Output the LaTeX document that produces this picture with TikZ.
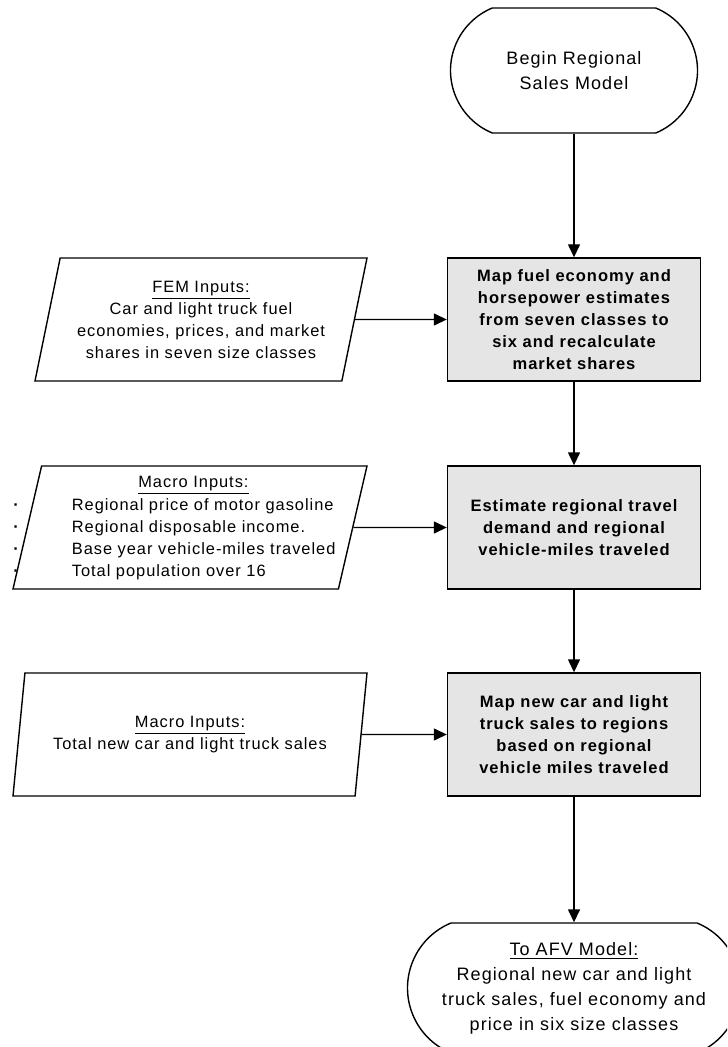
\documentclass[tikz,border=0pt]{standalone}
\usepackage{fontspec}
\setmainfont{Liberation Sans}[LetterSpace=6]
\usetikzlibrary{shapes.geometric,shapes.misc,arrows.meta}

\begin{document}
\begin{tikzpicture}[x=0.5pt,y=-0.5pt,
terminal/.style={draw,line width=0.7pt,rounded rectangle,rounded rectangle arc length=135,inner sep=0pt,align=center,font=\fontsize{9}{12.5}\selectfont},
process/.style={draw,line width=0.7pt,fill=black!10,minimum width=126.5pt,minimum height=61.5pt,inner sep=0pt,align=center,font=\fontsize{8.25}{11}\selectfont\bfseries},
inputbox/.style={draw,line width=0.7pt,trapezium,trapezium left angle=72,trapezium right angle=108,trapezium stretches body,minimum height=61.5pt,inner sep=0pt,align=center,font=\fontsize{8.2}{11}\selectfont},
flow/.style={line width=0.7pt,-{Triangle[length=6.5pt,width=6pt]}}]
\clip (0,0) rectangle (727,1047);
% main column
\node[terminal,minimum width=123.5pt,minimum height=62.5pt] (begin) at (574,70.5) {Begin Regional\\Sales Model};
\node[process] (mapfuel) at (574,319.5) {Map fuel economy and\\horsepower estimates\\from seven classes to\\six and recalculate\\market shares};
\node[process] (travel) at (574,527.5) {Estimate regional travel\\demand and regional\\vehicle-miles traveled};
\node[process] (mapsales) at (574,734.5) {Map new car and light\\truck sales to regions\\based on regional\\vehicle miles traveled};
\node[terminal,minimum width=166.5pt,minimum height=65pt] (afv) at (574,988) {\underline{To AFV Model:}\\Regional new car and light\\truck sales, fuel economy and\\price in six size classes};
% inputs
\node[inputbox,minimum width=166pt] (fem) at (201,319.5) {\underline{FEM Inputs:}\\Car and light truck fuel\\economies, prices, and market\\shares in seven size classes};
\node[inputbox,minimum width=177pt] (macroA) at (190,527.5) {\rule{0pt}{44pt}};
\node[anchor=west,inner sep=0pt,font=\fontsize{8.2}{11}\selectfont] (macroAtext) at (13,527.5) {\begin{tabular}{@{}l@{\hspace{26pt}}l@{}}
\multicolumn{2}{c}{\hspace{19pt}\underline{Macro Inputs:}}\\
\textbf{·} & Regional price of motor gasoline\\
\textbf{·} & Regional disposable income.\\
\textbf{·} & Base year vehicle-miles traveled\\
\textbf{·} & Total population over 16
\end{tabular}};
\node[inputbox,minimum width=177pt] (macroB) at (190,734.5) {\underline{Macro Inputs:}\\Total new car and light truck sales};
% connectors
\draw[flow] (begin.south) -- (mapfuel.north);
\draw[flow] (mapfuel.south) -- (travel.north);
\draw[flow] (travel.south) -- (mapsales.north);
\draw[flow] (mapsales.south) -- (afv.north);
\draw[flow] (fem.east) -- (mapfuel.west);
\draw[flow] (macroA.east) -- (travel.west);
\draw[flow] (macroB.east) -- (mapsales.west);
\end{tikzpicture}
\end{document}
